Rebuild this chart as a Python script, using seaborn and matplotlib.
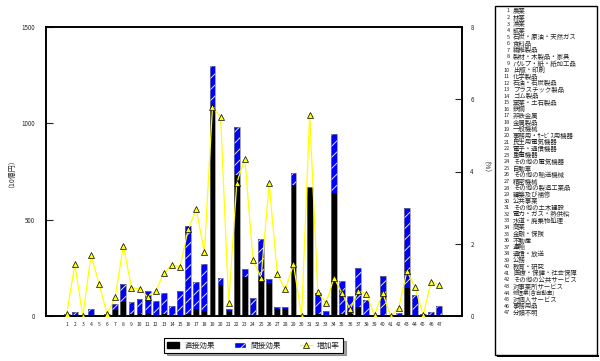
import numpy as np
import pandas as pd
import matplotlib
matplotlib.use("Agg")
import matplotlib.pyplot as plt
from matplotlib.patches import Patch, Rectangle
from matplotlib.lines import Line2D
import seaborn as sns

sectors = ["農業", "林業", "漁業", "鉱業", "石炭・原油・天然ガス", "食料品", "繊維製品",
           "製材・木製品・家具", "パルプ・紙・紙加工品", "出版・印刷", "化学製品", "石油・石炭製品",
           "プラスチック製品", "ゴム製品", "窯業・土石製品", "鉄鋼", "非鉄金属", "金属製品",
           "一般機械", "事務用・ｻｰﾋﾞｽ用機器", "民生用電気機器", "電子・通信機器", "重電機器",
           "その他の電気機器", "自動車", "その他の輸送機械", "精密機械", "その他の製造工業品",
           "建築及び補修", "公共事業", "その他の土木建設", "電力・ガス・熱供給", "水道・廃棄物処理",
           "商業", "金融・保険", "不動産", "運輸", "通信・放送", "公務", "教育・研究",
           "医療・保健・社会保障", "その他の公共サービス", "対事業所サービス", "修理業(含自動車)",
           "対個人サービス", "事務用品", "分類不明"]
codes = [str(i) for i in range(1, 48)]

total = [8, 22, 3, 36, 6, 8, 61, 166, 71, 90, 130, 78, 119, 50, 130, 467, 176, 272,
         1299, 196, 36, 979, 244, 93, 398, 192, 45, 48, 740, 0, 672, 121, 28, 943,
         183, 104, 247, 83, 0, 209, 0, 14, 559, 109, 12, 21, 52]
direct = [3, 4, 1, 5, 4, 3, 31, 74, 8, 8, 10, 6, 8, 4, 6, 10, 36, 26,
          1065, 161, 26, 730, 200, 5, 205, 170, 35, 38, 680, 0, 665, 8, 5, 637,
          10, 8, 45, 5, 0, 5, 0, 4, 144, 6, 4, 5, 3]
rate = [0.05, 1.43, 0.0, 1.69, 0.89, 0.05, 0.53, 1.95, 0.78, 0.76, 0.53, 0.69, 1.20,
        1.40, 1.37, 2.40, 2.95, 1.76, 5.78, 5.52, 0.36, 3.69, 4.35, 1.55, 1.06, 3.67,
        1.15, 0.74, 1.43, 0.0, 5.57, 0.66, 0.35, 1.06, 0.63, 0.19, 0.69, 0.61, 0.02,
        0.65, 0.0, 0.23, 1.25, 0.79, 0.03, 0.95, 0.86]

df = pd.DataFrame({"code": codes, "total": total, "direct": direct, "rate": rate})
df["pos"] = np.arange(len(df))

sns.set_style("white")
plt.rcParams["font.family"] = ["Noto Sans CJK JP", "DejaVu Sans"]
plt.rcParams["hatch.color"] = "white"
plt.rcParams["hatch.linewidth"] = 0.6

W, H = 600, 361
fig = plt.figure(figsize=(6.0, 3.61), dpi=100)
ax = fig.add_axes([46 / W, 1 - 316 / H, (462 - 46) / W, (316 - 27) / H])

sns.barplot(data=df, x="code", y="total", order=codes, color="#0000FF", width=0.72,
            hatch="///", edgecolor="white", linewidth=0, saturation=1, ax=ax, zorder=2)
sns.barplot(data=df, x="code", y="direct", order=codes, color="black", width=0.72,
            linewidth=0, saturation=1, ax=ax, zorder=3)
# thin grey outline around stacked bars
sns.barplot(data=df, x="code", y="total", order=codes, fill=False, width=0.72,
            edgecolor="#808080", linewidth=0.5, ax=ax, zorder=4)

ax.set_ylim(0, 1500)
ax.set_yticks([0, 500, 1000, 1500])
ax.set_yticklabels(["0", "500", "1000", "1500"])
ax.set_xlabel("")
ax.set_ylabel("")
ax.tick_params(axis="x", length=0, labelsize=3.6, pad=4)
ax.tick_params(axis="y", direction="in", length=5, width=0.8, labelsize=4.5, pad=8)

ax2 = ax.twinx()
sns.lineplot(data=df, x="pos", y="rate", ax=ax2, color="#FFFF00", linewidth=0.9,
             marker="^", markersize=4, markerfacecolor="#FFFF00",
             markeredgecolor="black", markeredgewidth=0.5, zorder=5)
ax2.set_ylim(0, 8)
ax2.set_yticks([0, 2, 4, 6, 8])
ax2.set_ylabel("")
ax2.tick_params(axis="y", direction="in", length=5, width=0.8, labelsize=4.5, pad=6)
ax.set_xlim(-2.55, 48.8)
ax2.set_xlim(-2.55, 48.8)

for a in (ax, ax2):
    for s in a.spines.values():
        s.set_color("black")
        s.set_linewidth(1.2)

fig.text(8 / W, 1 - 170 / H, "（10億円）", rotation=90, ha="center", va="center", fontsize=5)
fig.text(482 / W, 1 - 170 / H, "（%）", rotation=270, ha="center", va="center", fontsize=5)

handles = [Patch(facecolor="black", edgecolor="black"),
           Patch(facecolor="#0000FF", edgecolor="white", hatch="///"),
           Line2D([], [], color="#FFFF00", marker="^", markerfacecolor="#FFFF00",
                  markeredgecolor="black", markeredgewidth=0.5, markersize=4, linewidth=0.9)]
leg = fig.legend(handles, ["直接効果", "間接効果", "増加率"], loc="center",
                 bbox_to_anchor=(253.5 / W, 1 - 345.5 / H), ncol=3, fontsize=5.5,
                 frameon=True, fancybox=False, shadow=True, edgecolor="black",
                 handlelength=1.6, handleheight=0.7, columnspacing=2.5, borderpad=0.4,
                 handletextpad=0.6)
leg.get_frame().set_linewidth(0.8)

# right-hand sector list box
fig.patches.append(Rectangle((495 / W, 1 - 355 / H), (597 - 495) / W, (355 - 6) / H,
                             transform=fig.transFigure, fill=False, edgecolor="black",
                             linewidth=1.0))
fig.patches.append(Rectangle((497 / W, 1 - 357 / H), (597 - 495) / W, 2 / H,
                             transform=fig.transFigure, facecolor="black", edgecolor="none"))
for i, (c, name) in enumerate(zip(codes, sectors)):
    yy = 1 - (11 + i * 6.56) / H
    fs = 4.0 if "(" in name else 4.6
    fig.text(510 / W, yy, c, ha="right", va="center", fontsize=4.0)
    fig.text(513 / W, yy, name, ha="left", va="center", fontsize=fs)

fig.savefig("out.png", dpi=100)
